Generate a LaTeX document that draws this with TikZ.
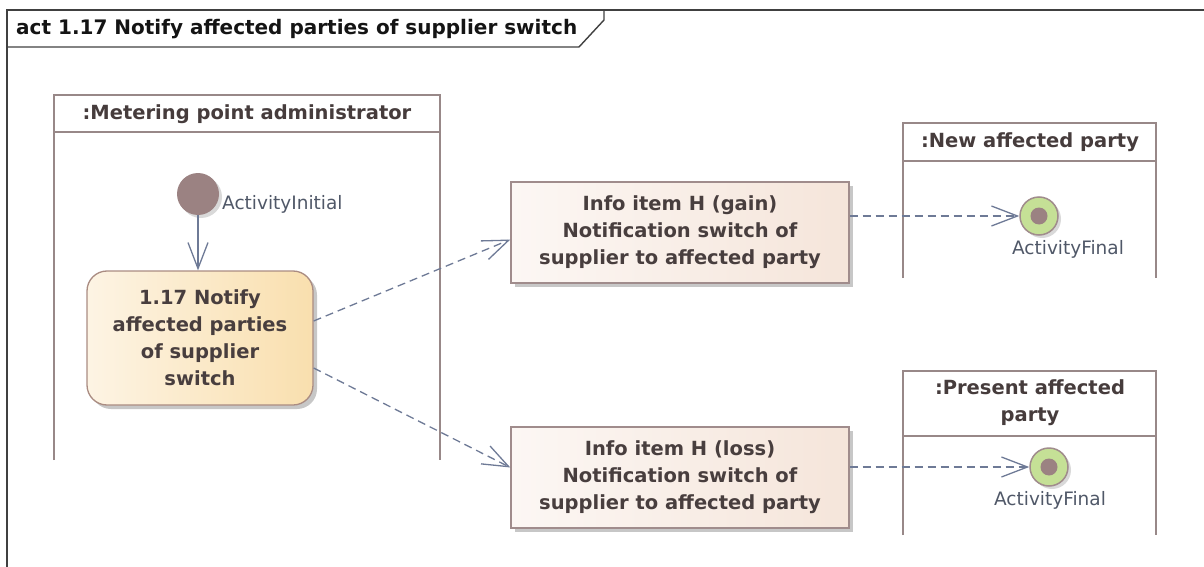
\documentclass[tikz,border=0pt]{standalone}
\usepackage{fontspec}
\setmainfont{DejaVu Sans}
\usetikzlibrary{arrows.meta, shadows, positioning}
\newcommand{\colrgb}[3]{rgb,255:red,#1; green,#2; blue,#3}

\begin{document}
\begin{tikzpicture}[x=1pt, y=-1pt,
    frame/.style={draw=\colrgb{64}{64}{64}, line width=1.4pt},
    lane/.style={draw=\colrgb{152}{136}{136}, line width=2.8pt},
    title/.style={font=\bfseries\fontsize{20}{24}\selectfont, text=\colrgb{20}{20}{20}, anchor=west, inner sep=0pt},
    lanehead/.style={font=\bfseries\fontsize{19.5}{27}\selectfont, text=\colrgb{70}{60}{60}, align=center, inner sep=0pt},
    boxtext/.style={font=\bfseries\fontsize{19.5}{27}\selectfont, text=\colrgb{72}{62}{62}, align=center, inner sep=0pt},
    action/.style={boxtext, draw=\colrgb{170}{140}{130}, line width=1.3pt, rounded corners=20pt,
        left color=\colrgb{253}{244}{228}, right color=\colrgb{249}{223}{174},
        minimum width=226pt, minimum height=134pt,
        drop shadow={shadow xshift=4pt, shadow yshift=-4pt, fill=black!22, opacity=1}},
    info/.style={boxtext, draw=\colrgb{160}{140}{140}, line width=1.3pt,
        left color=\colrgb{252}{247}{244}, right color=\colrgb{245}{229}{218},
        minimum width=338pt, minimum height=101pt,
        drop shadow={shadow xshift=4pt, shadow yshift=-4pt, fill=black!22, opacity=1}},
    initial/.style={circle, fill=\colrgb{155}{130}{130}, minimum size=42pt, inner sep=0pt,
        drop shadow={shadow xshift=3pt, shadow yshift=-3pt, fill=black!15, opacity=1}},
    final/.style={circle, draw=\colrgb{160}{140}{140}, line width=1.5pt, fill=\colrgb{197}{224}{150},
        minimum size=38pt, inner sep=0pt,
        drop shadow={shadow xshift=3pt, shadow yshift=-3pt, fill=black!15, opacity=1}},
    dot/.style={fill=\colrgb{155}{130}{130}},
    lbl/.style={font=\fontsize{18.5}{22}\selectfont, text=\colrgb{80}{88}{104}, inner sep=0pt},
    flow/.style={draw=\colrgb{110}{122}{150}, line width=1.3pt, -{Straight Barb[length=26pt, width=20pt]}},
    dataflow/.style={flow, dash pattern=on 8pt off 5pt}
  ]
    \useasboundingbox (0,0) rectangle (1204,567);

    %cadre et onglet du titre
    \draw[frame] (7,600) -- (7,10) -- (1230,10);
    \draw[frame] (7,47) -- (579,47) -- (604,20) -- (604,10);
    \node[title] (ttl) at (16,29) {act 1.17 Notify affected parties of supplier switch};

    %couloirs
    \draw[lane] (54,460) -- (54,95) -- (440,95) -- (440,460);
    \draw[lane] (54,132) -- (440,132);
    \node[lanehead] (mpa) at (247,114) {:Metering point administrator};

    \draw[lane] (903,278) -- (903,123) -- (1156,123) -- (1156,278);
    \draw[lane] (903,161) -- (1156,161);
    \node[lanehead] (newap) at (1030,142) {:New affected party};

    \draw[lane] (903,535) -- (903,371) -- (1156,371) -- (1156,535);
    \draw[lane] (903,436) -- (1156,436);
    \node[lanehead] (presap) at (1030,403) {:Present affected\\party};

    %noeuds
    \node[initial] (init) at (198,194) {};
    \node[lbl, anchor=west] (initlbl) at (222,204) {ActivityInitial};

    \node[action] (act) at (200,338) {1.17 Notify\\affected parties\\of supplier\\switch};

    \node[info] (gain) at (680,232.5) {Info item H (gain)\\Notification switch of\\supplier to affected party};
    \node[info] (loss) at (680,477.5) {Info item H (loss)\\Notification switch of\\supplier to affected party};

    \node[final] (fin1) at (1039,216) {};
    \fill[dot] (fin1) circle (8.5pt);
    \node[lbl] (fin1lbl) at (1068,249) {ActivityFinal};

    \node[final] (fin2) at (1049,467) {};
    \fill[dot] (fin2) circle (8.5pt);
    \node[lbl] (fin2lbl) at (1050,500) {ActivityFinal};

    %flèches
    \draw[flow] (init) -- (init |- act.north);
    \draw[dataflow] ([yshift=17pt]act.east) -- ([yshift=-7pt]gain.west);
    \draw[dataflow] ([yshift=-30pt]act.east) -- ([yshift=10pt]loss.west);
    \draw[dataflow] (gain.east |- fin1) -- (fin1);
    \draw[dataflow] (loss.east |- fin2) -- (fin2);
  \end{tikzpicture}
\end{document}
